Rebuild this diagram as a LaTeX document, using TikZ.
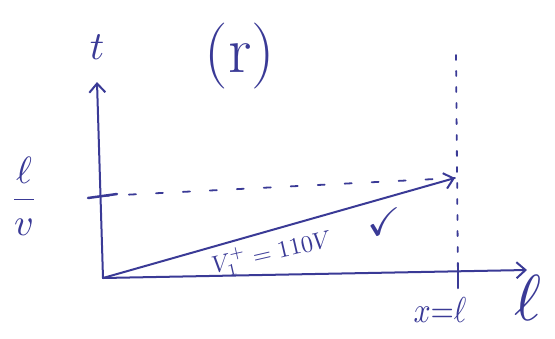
\documentclass[tikz,border=0pt]{standalone}
\usepackage{amsmath,amssymb}
\usetikzlibrary{arrows.meta}
\definecolor{ink}{RGB}{58,58,150}
\tikzset{
  axis/.style={line width=2pt, -{Straight Barb[length=9pt,width=16pt,line width=2pt]}},
  guide/.style={line width=1.8pt, dash pattern=on 7pt off 20pt},
  hand/.style={inner sep=0pt, text=ink}
}
\begin{document}
\begin{tikzpicture}[x=1pt, y=-1pt, ink, line cap=round]
\useasboundingbox (0,0) rectangle (555,338);

\coordinate (o) at (103,278);
\coordinate (ttip) at (97,82);
\coordinate (xtip) at (527,270);
\coordinate (hit) at (455,178);
\coordinate (tk) at (102,196);
\coordinate (top) at (456,55);
\coordinate (foot) at (458,278);

% axes and the wave
\draw[axis] (o) -- (ttip);
\draw[axis] (o) -- (xtip);
\draw[axis] (o) -- (hit);

% guides
\draw[guide] (tk) -- (hit);
\draw[guide, dash pattern=on 5pt off 11pt] (top) -- (foot);

% ticks
\draw[line width=2.5pt] (88,198) -- (117,194);
\draw[line width=2.5pt] (458,266) -- (458,288);

% labels
\node[hand] (tlab) at (97,47) {\scalebox{4}{$t$}};
\node[hand] (case) at (240,56) {\fontsize{66}{66}\selectfont (r)};
\node[hand] (lv) at (24,196) {\scalebox{3.8}{$\dfrac{\ell}{v}$}};
\node[hand] (ell) at (528,298) {\scalebox{6.5}{$\ell$}};
\node[hand] (xl) at (440,310) {\scalebox{3}[3.6]{$x{=}\ell$}};
\node[hand, rotate=13] (vlab) at (272,253) {\scalebox{2.4}{$V_1^+ = 110V$}};
\node[hand] (tick) at (384,222) {\scalebox{4}{$\checkmark$}};
\end{tikzpicture}
\end{document}
